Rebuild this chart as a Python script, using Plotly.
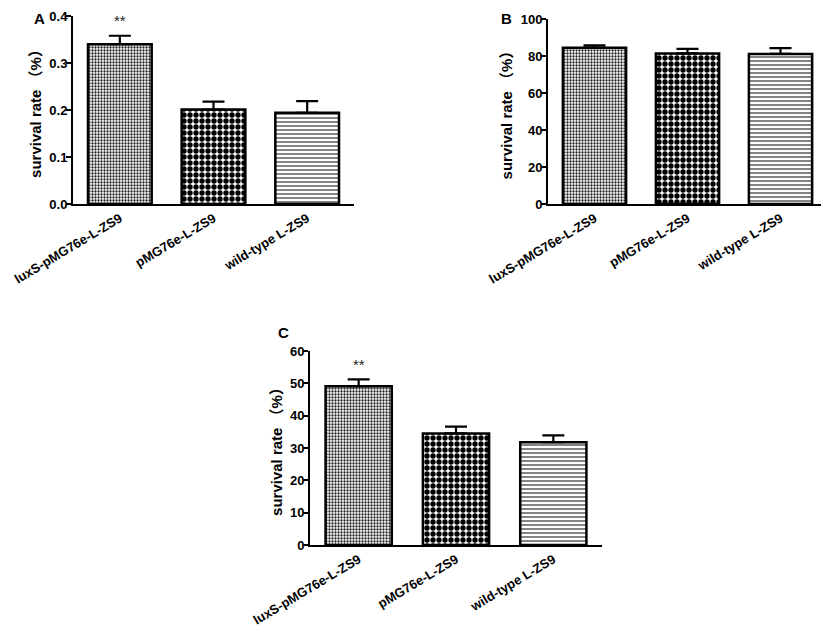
import plotly.graph_objects as go

# groups shown on every panel
strains = ["luxS-pMG76e-L-ZS9", "pMG76e-L-ZS9", "wild-type L-ZS9"]

# panel A
surv_a = [0.340, 0.201, 0.194]
err_a = [0.018, 0.017, 0.025]

# panel B
surv_b = [84.5, 81.4, 81.1]
err_b = [1.3, 2.4, 3.2]

# panel C
surv_c = [49.1, 34.5, 31.8]
err_c = [2.1, 2.1, 2.1]

y_title = "survival rate \uff08%\uff09"

# page has an 8px body margin, so the figure is 8px smaller than the window
W, H = 821, 624
OFF = 8


def px_x(p):
    return (p - OFF) / W


def px_y(p):
    return 1 - (p - OFF) / H


patterns = [
    dict(shape=".", size=3, solidity=0.45, fgcolor="#222222", bgcolor="white", fgopacity=1),
    dict(shape=".", size=6, solidity=0.62, fgcolor="black", bgcolor="white", fgopacity=1),
    dict(shape="-", size=4, solidity=0.4, fgcolor="#666666", bgcolor="white", fgopacity=1),
]

fig = go.Figure()


def add_panel(vals, errs, xa, ya):
    for i, name in enumerate(strains):
        fig.add_trace(go.Bar(
            x=[name], y=[vals[i]], width=0.68,
            marker=dict(color="white", pattern=patterns[i],
                        line=dict(color="black", width=2.5)),
            error_y=dict(type="data", array=[errs[i]], arrayminus=[0],
                         symmetric=False, color="black", thickness=2.2, width=11),
            xaxis=xa, yaxis=ya, showlegend=False,
        ))


add_panel(surv_a, err_a, "x", "y")
add_panel(surv_b, err_b, "x2", "y2")
add_panel(surv_c, err_c, "x3", "y3")

xtick_font = dict(family="Liberation Sans, Arial", size=13, color="black", weight="bold")
ytick_font = dict(family="Liberation Sans, Arial", size=13, color="black", weight="bold")
title_font = dict(family="Liberation Sans, Noto Sans CJK SC", size=15, color="black", weight="bold")

xcommon = dict(type="category", categoryorder="array", categoryarray=strains,
               range=[-0.5, 2.5], showline=True, linecolor="black", linewidth=2,
               ticks="", tickangle=-31, tickfont=xtick_font, showgrid=False,
               zeroline=False, automargin=False)
ycommon = dict(showline=True, linecolor="black", linewidth=2, ticks="outside",
               ticklen=5, tickwidth=2, tickcolor="black", tickfont=ytick_font,
               ticklabelstandoff=-4,
               showgrid=False, zeroline=False, automargin=False,
               title=dict(text=y_title, font=title_font, standoff=4))

fig.update_layout(
    width=W, height=H,
    margin=dict(l=0, r=0, t=0, b=0),
    plot_bgcolor="white", paper_bgcolor="white",
    xaxis=dict(xcommon, domain=[px_x(73), px_x(354)], anchor="y"),
    yaxis=dict(ycommon, domain=[px_y(204), px_y(16)], anchor="x", range=[0, 0.4],
               tickvals=[0, 0.1, 0.2, 0.3, 0.4], ticktext=["0.0", "0.1", "0.2", "0.3", "0.4"]),
    xaxis2=dict(xcommon, domain=[px_x(548), px_x(827)], anchor="y2"),
    yaxis2=dict(ycommon, domain=[px_y(204), px_y(19)], anchor="x2", range=[0, 100], dtick=20),
    xaxis3=dict(xcommon, domain=[px_x(310), px_x(602)], anchor="y3"),
    yaxis3=dict(ycommon, domain=[px_y(545), px_y(351)], anchor="x3", range=[0, 60], dtick=10),
)

# significance marks above first group
for xa, ya, vals, errs in [("x", "y", surv_a, err_a), ("x3", "y3", surv_c, err_c)]:
    fig.add_annotation(x=strains[0], y=vals[0] + errs[0], xref=xa, yref=ya,
                       text="**", showarrow=False, yshift=15,
                       font=dict(family="Liberation Sans", size=15, color="#222222"))

# panel letters
for letter, px, py in [("A", 32, 8), ("B", 506, 8), ("C", 276, 322)]:
    fig.add_annotation(x=px_x(px), y=px_y(py), xref="paper", yref="paper",
                       text=letter, showarrow=False, yanchor="top",
                       font=dict(family="Liberation Sans", size=15, color="black", weight="bold"))

fig.write_html("out.html")
